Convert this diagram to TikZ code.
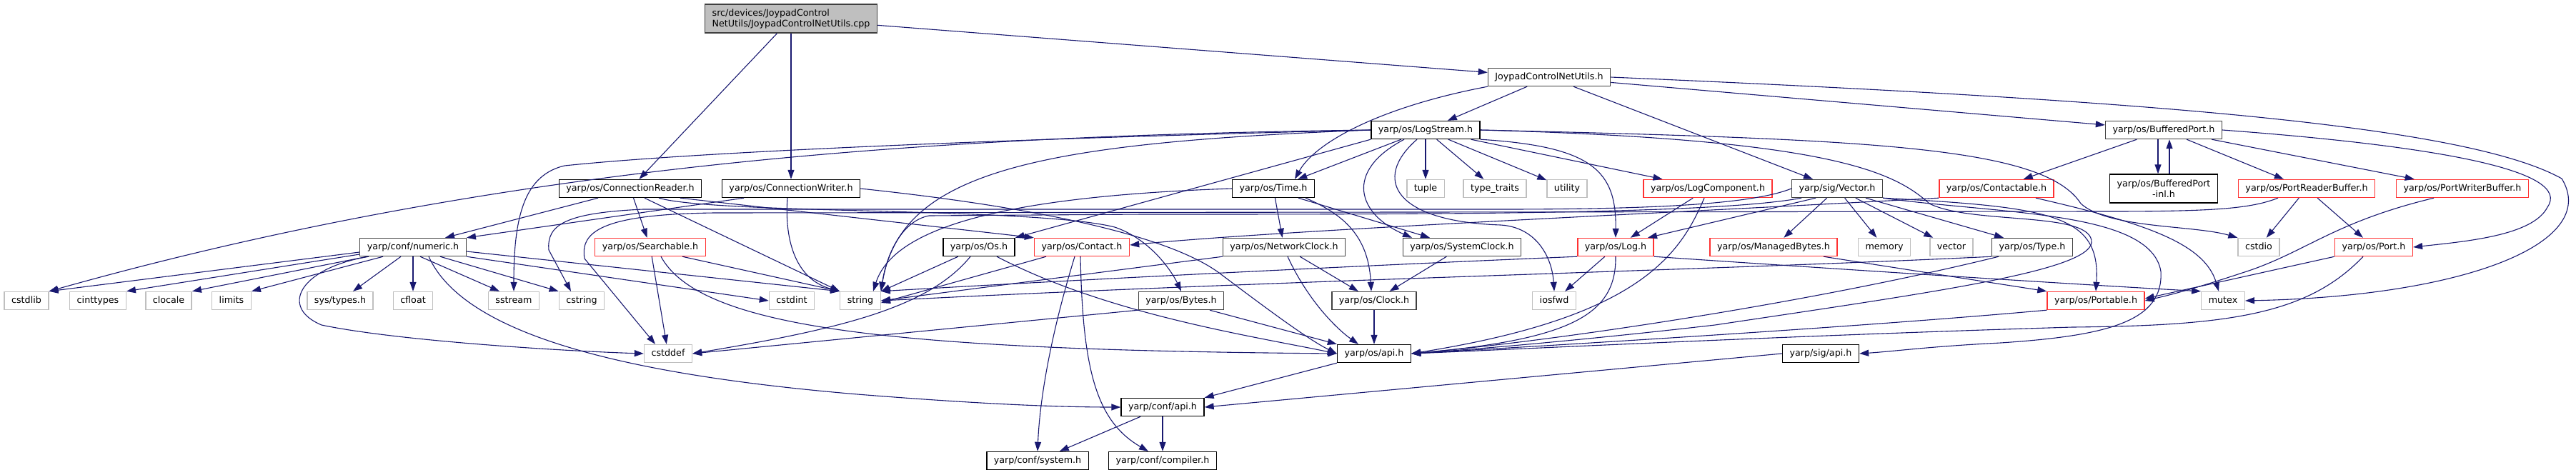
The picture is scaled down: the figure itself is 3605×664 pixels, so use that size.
\documentclass[tikz,border=0pt]{standalone}
\usepackage{fontspec}
\setmainfont{DejaVu Sans}
\usetikzlibrary{arrows.meta}
\definecolor{edgeblue}{RGB}{25,25,112}
\definecolor{extgray}{RGB}{191,191,191}
\definecolor{truncred}{RGB}{255,50,50}
\definecolor{rootgray}{RGB}{191,191,191}
\definecolor{darkframe}{RGB}{64,64,64}

\begin{document}
\begin{tikzpicture}[
  x=1pt, y=-1pt,
  font=\fontsize{12.7}{15}\selectfont,
  box/.style={line width=1.4pt, fill=white, minimum height=25pt, inner xsep=10pt, inner ysep=2pt},
  hdr/.style={box, draw=black, text height=9.5pt, text depth=3pt},
  hdrdark/.style={hdr, draw=darkframe},
  trunc/.style={hdr, draw=truncred},
  syshdr/.style={hdr, draw=extgray},
  srcfile/.style={box, draw=darkframe, fill=rootgray, align=left, minimum height=40pt},
  twoline/.style={box, draw=black, align=center, minimum height=40pt},
  dep/.style={draw=edgeblue, line width=1.1pt, -{Triangle[length=13pt,width=9pt]}}
]
\useasboundingbox (0,0) rectangle (3605,664);
% top: the source file and its own header
\node[srcfile] (root) at (1107,26) {src/devices/JoypadControl\\NetUtils/JoypadControlNetUtils.cpp};
\node[hdrdark] (jcnu) at (2168,108) {JoypadControlNetUtils.h};
\node[hdr] (logstream) at (1995,182) {yarp/os/LogStream.h};
\node[hdrdark] (bport) at (3028,182) {yarp/os/BufferedPort.h};

% row 3
\node[hdr] (creader) at (882,264) {yarp/os/ConnectionReader.h};
\node[hdr] (cwriter) at (1107,264) {yarp/os/ConnectionWriter.h};
\node[hdr] (time) at (1782,264) {yarp/os/Time.h};
\node[syshdr] (tuple) at (1995,264) {tuple};
\node[syshdr] (typetraits) at (2092,264) {type\_traits};
\node[syshdr] (utility) at (2193,264) {utility};
\node[trunc] (logcomp) at (2390,264) {yarp/os/LogComponent.h};
\node[hdrdark] (vector) at (2571,264) {yarp/sig/Vector.h};
\node[trunc] (contactable) at (2794,264) {yarp/os/Contactable.h};
\node[twoline] (bportinl) at (3028,264) {yarp/os/BufferedPort\\-inl.h};
\node[trunc] (prbuf) at (3228,264) {yarp/os/PortReaderBuffer.h};
\node[trunc] (pwbuf) at (3446,264) {yarp/os/PortWriterBuffer.h};

% row 4
\node[hdrdark] (numeric) at (578,346) {yarp/conf/numeric.h};
\node[trunc] (searchable) at (910,346) {yarp/os/Searchable.h};
\node[hdr] (os) at (1370,346) {yarp/os/Os.h};
\node[trunc] (contact) at (1514,346) {yarp/os/Contact.h};
\node[hdrdark] (netclock) at (1797,346) {yarp/os/NetworkClock.h};
\node[hdrdark] (sysclock) at (2046,346) {yarp/os/SystemClock.h};
\node[trunc] (log) at (2261,346) {yarp/os/Log.h};
\node[trunc] (mbytes) at (2482,346) {yarp/os/ManagedBytes.h};
\node[syshdr] (memory) at (2637,346) {memory};
\node[syshdr] (stdvector) at (2731,346) {vector};
\node[hdrdark] (type) at (2844,346) {yarp/os/Type.h};
\node[syshdr] (cstdio) at (3161,346) {cstdio};
\node[trunc] (port) at (3322,346) {yarp/os/Port.h};

% row 5
\node[syshdr] (cstdlib) at (37,421) {cstdlib};
\node[syshdr] (cinttypes) at (137,421) {cinttypes};
\node[syshdr] (clocale) at (236,421) {clocale};
\node[syshdr] (limits) at (324,421) {limits};
\node[syshdr] (systypes) at (476,421) {sys/types.h};
\node[syshdr] (cfloat) at (578,421) {cfloat};
\node[syshdr] (sstream) at (719,421) {sstream};
\node[syshdr] (cstring) at (814,421) {cstring};
\node[syshdr] (cstdint) at (1108,421) {cstdint};
\node[syshdr] (string) at (1204,421) {string};
\node[hdrdark] (bytes) at (1653,421) {yarp/os/Bytes.h};
\node[hdrdark] (clock) at (1923,421) {yarp/os/Clock.h};
\node[syshdr] (iosfwd) at (2175,421) {iosfwd};
\node[trunc] (portable) at (2933,421) {yarp/os/Portable.h};
\node[syshdr] (mutex) at (3111,421) {mutex};

% bottom rows
\node[syshdr] (cstddef) at (935,495) {cstddef};
\node[hdr] (osapi) at (1923,495) {yarp/os/api.h};
\node[hdr] (sigapi) at (2548,495) {yarp/sig/api.h};
\node[hdr] (confapi) at (1627,570) {yarp/conf/api.h};
\node[hdr] (system) at (1452,645) {yarp/conf/system.h};
\node[hdr] (compiler) at (1627,645) {yarp/conf/compiler.h};

% source file
\draw[dep] (root) -- (creader);
\draw[dep] (root) -- (cwriter);
\draw[dep] (root) -- (jcnu);
% JoypadControlNetUtils.h
\draw[dep] (jcnu) -- (logstream);
\draw[dep] (jcnu.south west) .. controls (1930,150) and (1840,200) .. ([xshift=30pt]time.north);
\draw[dep] (jcnu) -- (vector);
\draw[dep] (jcnu) -- (bport);
\draw[dep] (jcnu.east) .. controls (3000,140) and (3450,175) .. (3585,250) .. controls (3640,340) and (3450,415) .. (mutex.east);
% LogStream.h
\draw[dep] (logstream) -- (tuple);
\draw[dep] (logstream) -- (typetraits);
\draw[dep] (logstream) -- (utility);
\draw[dep] (logstream) -- (logcomp);
\draw[dep] (logstream) -- (time);
\draw[dep] (logstream.south west) -- (os.north east);
\draw[dep] (logstream.west) .. controls (1300,190) and (700,230) .. (cstdlib.north east);
\draw[dep] (logstream.west) .. controls (1500,192) and (1000,210) .. (790,232) .. controls (735,245) and (719,300) .. (sstream.north);
\draw[dep] (logstream.west) .. controls (1450,200) and (1260,240) .. (string.north east);
\draw[dep] ([xshift=-30pt]logstream.south) .. controls (1880,240) and (1900,300) .. ([xshift=-70pt]sysclock.north);
\draw[dep] ([xshift=-12pt]logstream.south) .. controls (1920,250) and (1950,310) .. (2100,315) .. controls (2150,318) and (2172,360) .. (iosfwd.north);
\draw[dep] (logstream.south east) .. controls (2230,205) and (2262,240) .. (log.north);
\draw[dep] (logstream.east) .. controls (2560,195) and (2650,240) .. (2700,285) .. controls (2760,315) and (2930,295) .. (2927,340) .. controls (2920,380) and (2700,410) .. (2400,455) .. controls (2200,478) and (2050,490) .. (osapi.east);
\draw[dep] (logstream.east) .. controls (2620,195) and (2860,205) .. (2912,285) .. controls (2950,320) and (3070,315) .. (cstdio.north west);
% Time.h
\draw[dep] (time) -- (netclock);
\draw[dep] ([xshift=35pt]time.south) -- ([xshift=-45pt]sysclock.north);
\draw[dep] ([xshift=45pt]time.south) .. controls (1880,300) and (1915,330) .. ([xshift=-4pt]clock.north);
\draw[dep] (time.west) .. controls (1400,275) and (1250,320) .. ([xshift=18pt]string.north);
% clocks
\draw[dep] (netclock.south west) -- (string.east);
\draw[dep] (netclock) -- (clock);
\draw[dep] ([xshift=5pt]netclock.south) .. controls (1830,420) and (1870,460) .. ([xshift=-22pt]osapi.north);
\draw[dep] (sysclock) -- (clock);
\draw[dep] (clock) -- (osapi);
% Os.h, Contact.h, Bytes.h
\draw[dep] (os) -- (string);
\draw[dep] ([xshift=-12pt]os.south) .. controls (1300,430) and (1180,460) .. (cstddef.east);
\draw[dep] ([xshift=25pt]os.south) .. controls (1550,440) and (1750,470) .. (osapi.west);
\draw[dep] ([xshift=-50pt]contact.south) -- ([yshift=-3pt]string.east);
\draw[dep] ([xshift=-10pt]contact.south) .. controls (1470,470) and (1455,560) .. (system.north);
\draw[dep] ([xshift=-2pt]contact.south) .. controls (1515,520) and (1535,590) .. ([xshift=-20pt]compiler.north);
\draw[dep] (bytes.south west) -- (cstddef.east);
\draw[dep] ([xshift=40pt]bytes.south) -- (osapi.north west);
% Searchable.h
\draw[dep] (searchable) -- (cstddef);
\draw[dep] ([xshift=45pt]searchable.south) -- (string.north west);
\draw[dep] ([xshift=15pt]searchable.south) .. controls (980,460) and (1250,490) .. (osapi.west);
% numeric.h
\draw[dep] ([yshift=-7pt]numeric.west) -- (cstdlib.north east);
\draw[dep] ([yshift=-10pt]numeric.west) -- (cinttypes.north east);
\draw[dep] ([xshift=-64pt]numeric.south) -- (clocale.north east);
\draw[dep] ([xshift=-42pt]numeric.south) -- (limits.north east);
\draw[dep] ([xshift=-17pt]numeric.south) -- ([xshift=18pt]systypes.north);
\draw[dep] (numeric) -- (cfloat);
\draw[dep] ([xshift=10pt]numeric.south) -- ([xshift=-20pt]sstream.north);
\draw[dep] ([xshift=38pt]numeric.south) -- (cstring.north west);
\draw[dep] (numeric.south east) -- (cstdint.west);
\draw[dep] ([yshift=-6pt]numeric.east) -- (string.north west);
\draw[dep] ([xshift=-62pt]numeric.south) .. controls (420,375) and (390,430) .. (450,455) .. controls (560,478) and (800,492) .. (cstddef.west);
\draw[dep] ([xshift=22pt]numeric.south) .. controls (650,470) and (880,525) .. (1200,552) .. controls (1400,568) and (1500,570) .. (confapi.west);
% ConnectionReader.h
\draw[dep] ([xshift=-45pt]creader.south) -- ([xshift=45pt]numeric.north);
\draw[dep] (creader) -- (searchable);
\draw[dep] ([xshift=20pt]creader.south) -- (string.north west);
\draw[dep] ([xshift=70pt]creader.south) -- (contact.north west);
\draw[dep] ([xshift=40pt]creader.south) .. controls (1000,300) and (1450,290) .. (1560,318) .. controls (1610,335) and (1640,380) .. (bytes.north);
% ConnectionWriter.h
\draw[dep] ([xshift=-66pt]cwriter.south) -- (numeric.north east);
\draw[dep] ([xshift=-5pt]cwriter.south) .. controls (1098,330) and (1110,390) .. (string.north west);
\draw[dep] (cwriter.east) .. controls (1450,290) and (1640,330) .. (1710,385) .. controls (1770,430) and (1830,475) .. (osapi.west);
% LogComponent.h, Log.h
\draw[dep] (logcomp) -- (log);
\draw[dep] ([xshift=-5pt]logcomp.south) .. controls (2350,360) and (2290,445) .. (osapi.east);
\draw[dep] (log) -- (iosfwd);
\draw[dep] (log.south) .. controls (2262,440) and (2200,475) .. (osapi.east);
\draw[dep] (log.south west) .. controls (1900,372) and (1500,392) .. (string.north east);
\draw[dep] (log.south east) .. controls (2500,372) and (2900,398) .. (mutex.north west);
% Vector.h
\draw[dep] (vector) -- (mbytes);
\draw[dep] (vector) -- (memory);
\draw[dep] (vector) -- (stdvector);
\draw[dep] ([xshift=40pt]vector.south) -- ([xshift=-40pt]type.north);
\draw[dep] ([xshift=-30pt]vector.south) -- ([xshift=45pt]log.north);
\draw[dep] (vector.south east) .. controls (2870,290) and (2940,300) .. (portable.north);
\draw[dep] (vector.south east) .. controls (2800,300) and (3010,295) .. (3024,380) .. controls (3028,450) and (2950,470) .. (2800,480) .. controls (2700,485) and (2650,492) .. (sigapi.east);
\draw[dep] (vector.west) .. controls (2450,287) and (2300,293) .. (2100,293) -- (900,293) .. controls (790,298) and (765,315) .. (768,350) -- ([xshift=-15pt]cstring.north);
\draw[dep] ([xshift=-50pt]vector.south) .. controls (2400,300) and (2000,300) .. (1600,300) -- (1300,302) .. controls (1260,310) and (1240,360) .. (string.north east);
\draw[dep] ([xshift=70pt]mbytes.south) -- (portable.north west);
% Type.h
\draw[dep] (type.south west) .. controls (2400,378) and (1800,392) .. (string.east);
\draw[dep] ([xshift=10pt]type.south west) .. controls (2550,420) and (2200,475) .. (osapi.east);
% Contactable.h
\draw[dep] (contactable.south west) .. controls (2300,300) and (1800,322) .. ([yshift=3pt]contact.east);
\draw[dep] ([xshift=55pt]contactable.south) .. controls (3000,312) and (3085,340) .. ([xshift=-6pt]mutex.north);
% BufferedPort.h
\draw[dep] ([xshift=-8pt]bport.south) -- ([xshift=-8pt]bportinl.north);
\draw[dep] ([xshift=8pt]bportinl.north) -- ([xshift=8pt]bport.south);
\draw[dep] (bport) -- (contactable);
\draw[dep] (bport) -- (prbuf);
\draw[dep] (bport) -- (pwbuf);
\draw[dep] (bport.east) .. controls (3420,205) and (3600,240) .. (3565,290) .. controls (3545,330) and (3450,338) .. (port.east);
% port buffers, Port.h, Portable.h
\draw[dep] (prbuf) -- (cstdio);
\draw[dep] (prbuf) -- (port);
\draw[dep] ([xshift=-40pt]prbuf.south) .. controls (3150,292) and (3100,296) .. (2950,296) -- (1000,298) .. controls (840,300) and (812,325) .. (818,362) -- ([xshift=-18pt]cstddef.north);
\draw[dep] ([xshift=-40pt]pwbuf.south) .. controls (3270,310) and (3230,350) .. (3150,378) .. controls (3090,398) and (3050,410) .. (portable.east);
\draw[dep] (port.south west) -- ([yshift=3pt]portable.east);
\draw[dep] ([xshift=-15pt]port.south) .. controls (3230,440) and (3120,456) .. (2900,458) .. controls (2500,470) and (2100,490) .. (osapi.east);
\draw[dep] (portable.south west) .. controls (2600,458) and (2200,482) .. (osapi.east);
% api headers
\draw[dep] (sigapi.west) -- (confapi.east);
\draw[dep] (osapi.south west) -- (confapi.north east);
\draw[dep] (confapi) -- (system);
\draw[dep] (confapi) -- (compiler);
\end{tikzpicture}
\end{document}
